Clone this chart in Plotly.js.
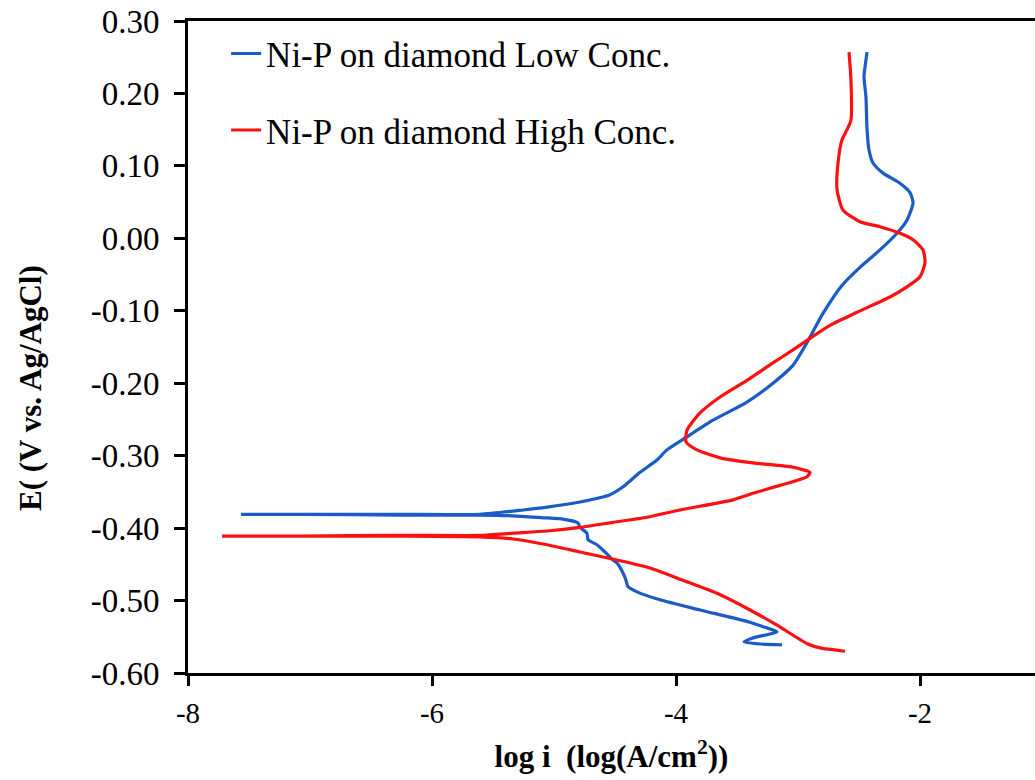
<!DOCTYPE html>
<html>
<head>
<meta charset="utf-8">
<script src="https://cdn.plot.ly/plotly-3.0.1.min.js"></script>
<style>html,body{margin:0;padding:0;background:#fff;}#chart{width:1035px;height:780px;}</style>
</head>
<body>
<div id="chart"></div>
<script>
// Ni-P on diamond Low Conc. (blue)
const lowLogI = [-3.131,-3.311,-3.443,-3.377,-3.172,-3.270,-3.393,-3.803,-4.131,-4.320,-4.393,-4.410,-4.434,-4.484,-4.516,-4.582,-4.648,-4.721,-4.730,-4.787,-4.803,-4.951,-5.057,-5.336,-5.607,-6.262,-7.082,-7.566,
  -7.082,-6.262,-5.607,-5.254,-5.057,-4.787,-4.541,-4.434,-4.295,-4.156,-4.074,-3.910,-3.697,-3.418,-3.205,-3.040,-2.930,-2.800,-2.640,-2.492,-2.328,-2.189,-2.107,-2.057,-2.082,-2.164,-2.303,-2.385,-2.418,-2.434,-2.443,-2.459,-2.443,-2.434];
const lowE = [-0.561,-0.560,-0.557,-0.552,-0.543,-0.537,-0.530,-0.513,-0.499,-0.488,-0.481,-0.472,-0.462,-0.448,-0.444,-0.433,-0.423,-0.416,-0.407,-0.399,-0.393,-0.387,-0.386,-0.383,-0.382,-0.382,-0.381,-0.381,
  -0.381,-0.381,-0.381,-0.375,-0.371,-0.364,-0.354,-0.343,-0.323,-0.306,-0.292,-0.274,-0.251,-0.226,-0.200,-0.175,-0.145,-0.105,-0.065,-0.040,-0.016,0.007,0.025,0.049,0.063,0.076,0.090,0.104,0.122,0.150,0.195,0.223,0.246,0.257];

// Ni-P on diamond High Conc. (red)
const highLogI = [-2.615,-2.700,-2.800,-2.920,-3.172,-3.393,-3.664,-3.943,-4.213,-4.484,-4.787,-5.057,-5.336,-5.607,-6.262,-7.082,-7.721,
  -7.082,-6.262,-5.607,-5.336,-5.057,-4.787,-4.516,-4.238,-3.967,-3.533,-3.369,-3.148,-2.926,-2.902,-3.041,-3.369,-3.639,-3.828,-3.918,-3.910,-3.803,-3.639,-3.418,-3.205,-3.041,-2.902,-2.738,-2.516,-2.246,-2.107,-2.000,-1.959,-1.975,-2.057,-2.164,-2.328,-2.492,-2.631,-2.680,-2.672,-2.639,-2.598,-2.566,-2.566,-2.582];
const highE = [-0.570,-0.568,-0.566,-0.560,-0.534,-0.513,-0.490,-0.472,-0.455,-0.444,-0.433,-0.423,-0.415,-0.412,-0.411,-0.411,-0.411,
  -0.411,-0.410,-0.410,-0.407,-0.404,-0.399,-0.392,-0.385,-0.375,-0.361,-0.352,-0.341,-0.329,-0.323,-0.316,-0.310,-0.303,-0.292,-0.281,-0.265,-0.241,-0.219,-0.196,-0.172,-0.154,-0.138,-0.120,-0.102,-0.081,-0.067,-0.053,-0.034,-0.016,-0.002,0.007,0.016,0.023,0.039,0.067,0.104,0.136,0.150,0.163,0.219,0.257];

const seriesNames = ['Ni-P on diamond Low Conc.', 'Ni-P on diamond High Conc.'];
const xTickVals = [-8, -6, -4, -2];
const xTickText = ['-8', '-6', '-4', '-2'];
const yTickVals = [0.3, 0.2, 0.1, 0.0, -0.1, -0.2, -0.3, -0.4, -0.5, -0.6];
const yTickText = ['0.30', '0.20', '0.10', '0.00', '-0.10', '-0.20', '-0.30', '-0.40', '-0.50', '-0.60'];
const xTitle = 'log i  (log(A/cm<sup>2</sup>))';
const yTitle = 'E( (V vs. Ag/AgCl)';

const serif = "'Liberation Serif', 'Times New Roman', serif";

const traces = [
  {x: lowLogI, y: lowE, name: seriesNames[0], legendgroup: 'a', mode: 'lines',
   line: {color: '#1a5bc8', width: 3.2, shape: 'spline', smoothing: 0.6}},
  {x: highLogI, y: highE, name: seriesNames[1], legendgroup: 'b', mode: 'lines',
   line: {color: '#ff1010', width: 3.2, shape: 'spline', smoothing: 0.6}}
];

const layout = {
  width: 1035, height: 780,
  margin: {l: 188, r: 0, t: 21, b: 107},
  paper_bgcolor: '#fff', plot_bgcolor: '#fff',
  showlegend: true,
  legend: {x: 0.045, y: 0.995, xanchor: 'left', yanchor: 'top', bgcolor: 'rgba(0,0,0,0)',
           font: {family: serif, size: 35, color: '#000'}, tracegroupgap: 28, traceorder: 'grouped'},
  xaxis: {range: [-8, -8 + 847/122], tickvals: xTickVals, ticktext: xTickText,
          showgrid: false, zeroline: false, showline: true, linecolor: '#000', linewidth: 3, mirror: true,
          ticks: 'outside', ticklen: 10, tickwidth: 3, tickcolor: '#000',
          tickfont: {family: serif, size: 29, color: '#000'}, ticklabelstandoff: 2,
          title: {text: '<b>' + xTitle + '</b>', font: {family: serif, size: 31, color: '#000'}, standoff: 18}},
  yaxis: {range: [-0.6, 0.3], tickvals: yTickVals, ticktext: yTickText,
          showgrid: false, zeroline: false, showline: true, linecolor: '#000', linewidth: 3, mirror: false,
          ticks: 'outside', ticklen: 11, tickwidth: 3, tickcolor: '#000',
          tickfont: {family: serif, size: 33, color: '#000'}, ticklabelstandoff: 8},
  annotations: [{text: '<b>' + yTitle + '</b>', textangle: -90, xref: 'paper', yref: 'paper',
                 x: (30 - 188) / 847, y: (673 - 388) / 652, xanchor: 'center', yanchor: 'middle',
                 showarrow: false, font: {family: serif, size: 31, color: '#000'}}]
};

Plotly.newPlot('chart', traces, layout, {displayModeBar: false, staticPlot: true});
</script>
</body>
</html>
